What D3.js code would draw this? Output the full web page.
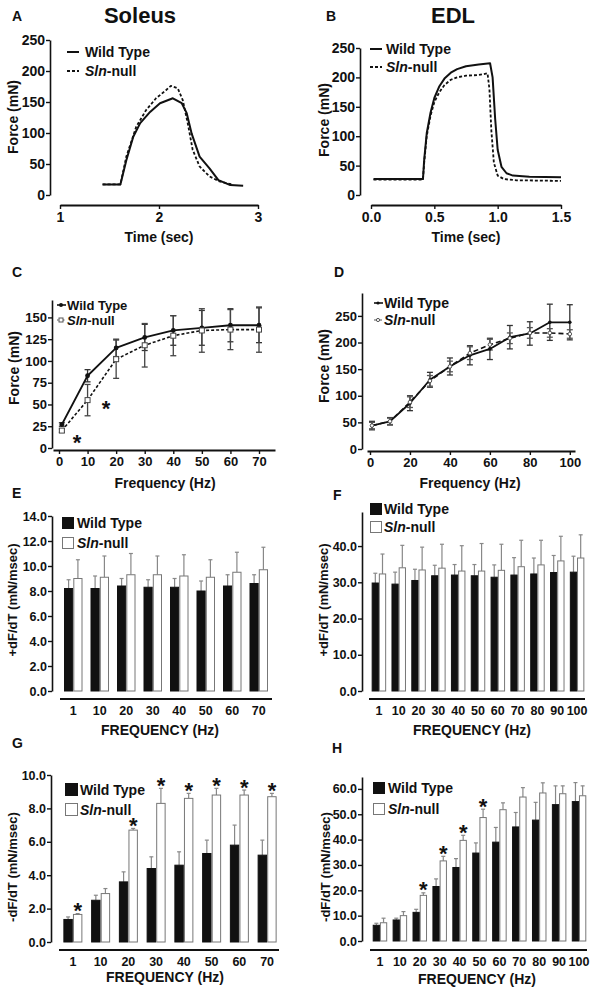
<!DOCTYPE html>
<html><head><meta charset="utf-8">
<script src="https://cdn.jsdelivr.net/npm/d3@7"></script>
<style>
body{margin:0;background:#fff}
svg text{font-family:'Liberation Sans',Arial,Helvetica,sans-serif;font-weight:bold;fill:#111}
</style>
</head><body>
<svg id="chart" width="594" height="993"></svg>
<script>
// ---------------- DATA ----------------
// Panel A: Soleus twitch trace
const aTimeWT  = [1.43,1.61,1.67,1.74,1.81,1.91,2.01,2.14,2.23,2.28,2.33,2.41,2.51,2.60,2.72,2.85];
const aForceWT = [17,17,56,94,116,134,148,156,148,132,99,62,43,24,16,15];
const aTimeSln  = [1.43,1.61,1.67,1.77,1.87,1.97,2.07,2.12,2.19,2.24,2.29,2.34,2.41,2.51,2.61,2.74];
const aForceSln = [17,17,62,110,137,156,169,176,172,153,116,73,46,30,22,17];
// Panel B: EDL tetanic trace
const bTimeWT  = [0.02,0.41,0.42,0.44,0.47,0.50,0.54,0.58,0.63,0.68,0.75,0.85,0.94,0.96,0.98,1.00,1.03,1.07,1.12,1.25,1.50];
const bForceWT = [27,27,60,105,140,165,185,198,208,214,219,222,224,200,130,77,48,37,33,31,30];
const bTimeSln  = [0.02,0.41,0.42,0.44,0.47,0.50,0.54,0.58,0.63,0.68,0.75,0.85,0.92,0.935,0.95,0.97,1.00,1.05,1.15,1.50];
const bForceSln = [26,26,55,100,135,158,175,187,196,200,203,204,207,180,110,55,33,27,25,24];
// Panel C: Soleus force-frequency
const cFreq = [1,10,20,30,40,50,60,70];
const cWT = [27,83,115,127,135,138,141,141];
const cWTerr = [2,7,10,15,17,20,19,20];
const cSln = [20,55,102,118,129,135,136,136];
const cSlnErr = [2,18,22,25,23,25,23,26];
const cStarFreq = [6.3,16.5];
const cStarForce = [12.6,51.6];
// Panel D: EDL force-frequency
const dFreq = [1,10,20,30,40,50,60,70,80,90,100];
const dWT = [44,52,86,130,155,176,188,210,217,238,238];
const dWTerr = [8,7,14,14,16,18,20,22,22,34,33];
const dSln = [44,52,88,128,155,180,196,208,218,218,216];
const dSlnErr = [6,6,10,10,10,12,10,10,10,8,8];
// Panel E: Soleus +dF/dT
const eCats = ["1","10","20","30","40","50","60","70"];
const eWT = [8.2,8.2,8.4,8.3,8.3,8.0,8.4,8.6];
const eWTerr = [0.7,1.0,0.6,0.6,0.7,0.8,0.9,0.7];
const eSln = [9.0,9.1,9.3,9.3,9.2,9.1,9.5,9.7];
const eSlnErr = [1.5,1.7,1.7,1.5,1.7,1.4,1.6,1.8];
// Panel F: EDL +dF/dT
const fCats = ["1","10","20","30","40","50","60","70","80","90","100"];
const fWT = [29.8,29.5,30.5,31.8,32.0,31.8,31.4,32.0,32.3,32.7,32.8];
const fWTerr = [2.7,3.3,3.1,2.9,2.9,3.1,3.4,4.8,4.4,4.7,4.4];
const fSln = [32.3,34.0,33.4,33.9,33.1,33.1,33.3,34.3,34.8,35.9,36.7];
const fSlnErr = [5.5,6.2,6.3,6.6,7.0,7.6,7.2,7.3,6.8,6.8,6.4];
// Panel G: Soleus -dF/dT
const gCats = ["1","10","20","30","40","50","60","70"];
const gWT = [1.35,2.5,3.6,4.4,4.6,5.3,5.8,5.2];
const gWTerr = [0.15,0.3,0.6,0.7,0.8,0.8,1.2,0.9];
const gSln = [1.65,2.9,6.7,8.3,8.6,8.8,8.8,8.7];
const gSlnErr = [0.05,0.3,0.1,0.9,0.3,0.4,0.3,0.2];
const gStars = ["1","20","30","40","50","60","70"];
// Panel H: EDL -dF/dT
const hCats = ["1","10","20","30","40","50","60","70","80","90","100"];
const hWT = [6.2,8.3,11.3,21.5,29.0,34.7,39.0,45.0,47.7,53.8,55.0];
const hWTerr = [0.8,0.7,1.2,3.0,3.5,4.0,5.8,5.7,7.0,7.4,7.5];
const hSln = [7.2,10.0,18.0,31.6,39.7,48.7,51.8,56.8,58.4,58.1,57.3];
const hSlnErr = [1.8,1.6,1.0,1.8,2.0,3.3,2.7,3.7,4.0,3.1,3.9];
const hStars = ["20","30","40","50"];

// ---------------- HELPERS ----------------
const svg = d3.select("#chart");
const FONT = "'Liberation Sans',Arial,Helvetica,sans-serif";
const INK = "#111";

function styleAxis(a, fs, sw) {
  a.attr("font-family", FONT).attr("font-size", fs).attr("font-weight", "bold");
  a.select(".domain").attr("stroke", INK).attr("stroke-width", sw);
  a.selectAll(".tick line").attr("stroke", INK).attr("stroke-width", 1.4);
  a.selectAll(".tick text").attr("fill", INK);
}
function yAxis(y, x, ticks, fmt, fs) {
  const a = svg.append("g").attr("transform", `translate(${x},0)`)
    .call(d3.axisLeft(y).tickValues(ticks).tickSize(4).tickSizeOuter(0).tickFormat(fmt).tickPadding(1));
  styleAxis(a, fs, 1.6);
  return a;
}
function xAxis(x, yPos, ticks, fmt, fs) {
  const a = svg.append("g").attr("transform", `translate(0,${yPos})`)
    .call(d3.axisBottom(x).tickValues(ticks).tickSize(4).tickSizeOuter(0).tickFormat(fmt).tickPadding(3));
  styleAxis(a, fs, 1.8);
  return a;
}
function txt(x, y, s, fs, anchor, rot) {
  const t = svg.append("text").attr("x", x).attr("y", y).attr("font-size", fs)
    .attr("text-anchor", anchor || "start").text(s);
  if (rot) t.attr("transform", `rotate(-90,${x},${y})`);
  return t;
}
function slnText(x, y, fs) {
  const t = svg.append("text").attr("x", x).attr("y", y).attr("font-size", fs);
  t.append("tspan").attr("font-style", "italic").text("Sln");
  t.append("tspan").text("-null");
  return t;
}
function lineSeries(x, y, xs, ys, dash, sw) {
  const pts = xs.map((d, i) => [d, ys[i]]);
  svg.append("path").datum(pts)
    .attr("d", d3.line().x(d => x(d[0])).y(d => y(d[1])))
    .attr("fill", "none").attr("stroke", INK).attr("stroke-width", sw || 1.8)
    .attr("stroke-dasharray", dash || null).attr("stroke-linejoin", "round");
}
function errBars(x, y, xs, ys, es, color) {
  const g = svg.append("g").attr("stroke", color).attr("stroke-width", 1.3).attr("fill", "none");
  xs.forEach((d, i) => {
    const cx = x(d), t = y(ys[i] + es[i]), b = y(ys[i] - es[i]);
    g.append("line").attr("x1", cx).attr("x2", cx).attr("y1", t).attr("y2", b);
    g.append("line").attr("x1", cx - 3).attr("x2", cx + 3).attr("y1", t).attr("y2", t);
    g.append("line").attr("x1", cx - 3).attr("x2", cx + 3).attr("y1", b).attr("y2", b);
  });
}
function star(cx, cy, fs) {
  svg.append("text").attr("x", cx).attr("y", cy + 0.57 * fs).attr("font-size", fs)
    .attr("text-anchor", "middle").text("*");
}

// ---------------- PANEL A ----------------
{
  const x = d3.scaleLinear().domain([1, 3]).range([60, 258]);
  const y = d3.scaleLinear().domain([0, 250]).range([195, 40]);
  yAxis(y, 50, [0, 50, 100, 150, 200, 250], d3.format("d"), 14);
  xAxis(x, 205, [1, 2, 3], d3.format("d"), 14);
  lineSeries(x, y, aTimeWT, aForceWT, null, 2);
  lineSeries(x, y, aTimeSln, aForceSln, "3,2", 1.8);
  txt(12, 21, "A", 14);
  txt(140, 23, "Soleus", 22, "middle");
  txt(18, 117, "Force (mN)", 14, "middle", true);
  txt(159, 242, "Time (sec)", 14, "middle");
  svg.append("line").attr("x1", 67).attr("x2", 79).attr("y1", 52).attr("y2", 52).attr("stroke", INK).attr("stroke-width", 2);
  svg.append("line").attr("x1", 67).attr("x2", 79).attr("y1", 71).attr("y2", 71).attr("stroke", INK).attr("stroke-width", 1.8).attr("stroke-dasharray", "3,2");
  txt(85, 57, "Wild Type", 14);
  slnText(85, 76, 14);
}

// ---------------- PANEL B ----------------
{
  const x = d3.scaleLinear().domain([0, 1.5]).range([371, 561]);
  const y = d3.scaleLinear().domain([0, 250]).range([195, 48]);
  yAxis(y, 360, [0, 50, 100, 150, 200, 250], d3.format("d"), 14);
  xAxis(x, 205, [0, 0.5, 1.0, 1.5], d3.format(".1f"), 14);
  lineSeries(x, y, bTimeWT, bForceWT, null, 2);
  lineSeries(x, y, bTimeSln, bForceSln, "3,2", 1.8);
  txt(326, 21, "B", 14);
  txt(453, 23, "EDL", 22, "middle");
  txt(329, 120, "Force (mN)", 14, "middle", true);
  txt(466, 242, "Time (sec)", 14, "middle");
  svg.append("line").attr("x1", 370).attr("x2", 382).attr("y1", 49).attr("y2", 49).attr("stroke", INK).attr("stroke-width", 2);
  svg.append("line").attr("x1", 370).attr("x2", 382).attr("y1", 67).attr("y2", 67).attr("stroke", INK).attr("stroke-width", 1.8).attr("stroke-dasharray", "3,2");
  txt(386, 54, "Wild Type", 14);
  slnText(386, 72, 14);
}

// ---------------- PANEL C ----------------
{
  const x = d3.scaleLinear().domain([-2.1, 75.6]).range([53, 275]);
  const y = d3.scaleLinear().domain([0, 170]).range([448, 300]);
  yAxis(y, 52, [0, 25, 50, 75, 100, 125, 150], d3.format("d"), 13);
  xAxis(x, 450, [0, 10, 20, 30, 40, 50, 60, 70], d3.format("d"), 13);
  errBars(x, y, cFreq, cWT, cWTerr, "#333");
  errBars(x, y, cFreq, cSln, cSlnErr, "#444");
  lineSeries(x, y, cFreq, cWT, null, 1.8);
  lineSeries(x, y, cFreq, cSln, "3,2", 1.6);
  cFreq.forEach((f, i) => {
    svg.append("circle").attr("cx", x(f)).attr("cy", y(cWT[i])).attr("r", 2.4).attr("fill", INK);
    svg.append("rect").attr("x", x(f) - 2.5).attr("y", y(cSln[i]) - 2.5).attr("width", 5).attr("height", 5)
      .attr("fill", "#fff").attr("stroke", "#444").attr("stroke-width", 1);
  });
  cStarFreq.forEach((f, i) => star(x(f), y(cStarForce[i]), 22));
  txt(12, 277, "C", 14);
  txt(19, 368, "Force (mN)", 14, "middle", true);
  txt(165, 488, "Frequency (Hz)", 14, "middle");
  svg.append("line").attr("x1", 57).attr("x2", 66).attr("y1", 305).attr("y2", 305).attr("stroke", INK).attr("stroke-width", 1.6);
  svg.append("circle").attr("cx", 61).attr("cy", 305).attr("r", 2).attr("fill", INK);
  svg.append("line").attr("x1", 57).attr("x2", 66).attr("y1", 320).attr("y2", 320).attr("stroke", "#555").attr("stroke-width", 1.2).attr("stroke-dasharray", "1.5,1.5");
  svg.append("rect").attr("x", 59).attr("y", 318).attr("width", 4).attr("height", 4).attr("fill", "#fff").attr("stroke", "#555");
  txt(67, 309.5, "Wild Type", 13);
  slnText(67, 325, 13);
}

// ---------------- PANEL D ----------------
{
  const x = d3.scaleLinear().domain([-1.5, 102.6]).range([367, 575]);
  const y = d3.scaleLinear().domain([0, 293]).range([449, 293]);
  yAxis(y, 362, [0, 50, 100, 150, 200, 250], d3.format("d"), 13);
  xAxis(x, 451, [0, 20, 40, 60, 80, 100], d3.format("d"), 13);
  errBars(x, y, dFreq, dWT, dWTerr, "#333");
  errBars(x, y, dFreq, dSln, dSlnErr, "#555");
  lineSeries(x, y, dFreq, dSln, "5,3", 1.6);
  lineSeries(x, y, dFreq, dWT, null, 1.8);
  dFreq.forEach((f, i) => {
    svg.append("circle").attr("cx", x(f)).attr("cy", y(dWT[i])).attr("r", 1.8).attr("fill", INK);
    svg.append("circle").attr("cx", x(f)).attr("cy", y(dSln[i])).attr("r", 1.8).attr("fill", "#fff").attr("stroke", "#555");
  });
  txt(334, 277, "D", 14);
  txt(329, 366, "Force (mN)", 14, "middle", true);
  txt(470, 488, "Frequency (Hz)", 14, "middle");
  svg.append("line").attr("x1", 374).attr("x2", 383).attr("y1", 303).attr("y2", 303).attr("stroke", INK).attr("stroke-width", 1.6);
  svg.append("circle").attr("cx", 378).attr("cy", 303).attr("r", 1.6).attr("fill", INK);
  svg.append("line").attr("x1", 374).attr("x2", 383).attr("y1", 320).attr("y2", 320).attr("stroke", "#555").attr("stroke-width", 1.2).attr("stroke-dasharray", "3,2");
  svg.append("circle").attr("cx", 378).attr("cy", 320).attr("r", 1.6).attr("fill", "#fff").attr("stroke", "#555");
  txt(384, 308, "Wild Type", 14);
  slnText(384, 325, 14);
}

// ---------------- BAR PANELS ----------------
function barPanel(o) {
  const x0 = d3.scaleBand().domain(o.cats).range(o.xr).padding(0);
  const bw = x0.bandwidth();
  const x1 = d3.scaleBand().domain(["wt", "sln"]).range([bw / 2 - o.gw / 2, bw / 2 + o.gw / 2]).paddingInner(0.12);
  const y = d3.scaleLinear().domain([0, o.ymax]).range([o.y0, o.ytop]);
  yAxis(y, o.yx, o.yticks, d3.format(".1f"), 12.5);
  svg.append("line").attr("x1", o.xr[0]).attr("x2", o.xr[1] + o.xext).attr("y1", o.xy).attr("y2", o.xy)
    .attr("stroke", INK).attr("stroke-width", 2);
  o.cats.forEach(c => txt(x0(c) + bw / 2, o.xy + 16, c, 12.5, "middle"));
  const series = [["wt", o.wt, o.wtErr], ["sln", o.sln, o.slnErr]];
  series.forEach(([k, vals, errs]) => {
    o.cats.forEach((c, i) => {
      const bx = x0(c) + x1(k), w = x1.bandwidth(), cx = bx + w / 2;
      const top = y(vals[i] + errs[i]);
      svg.append("line").attr("x1", cx).attr("x2", cx).attr("y1", y(vals[i])).attr("y2", top)
        .attr("stroke", "#888").attr("stroke-width", 1.2);
      svg.append("line").attr("x1", cx - 2).attr("x2", cx + 2).attr("y1", top).attr("y2", top)
        .attr("stroke", "#888").attr("stroke-width", 1.2);
      svg.append("rect").attr("x", bx).attr("y", y(vals[i])).attr("width", w).attr("height", y(0) - y(vals[i]))
        .attr("fill", k === "wt" ? "#111" : "#fff").attr("stroke", k === "wt" ? "#111" : "#777").attr("stroke-width", 1);
    });
  });
  if (o.stars) {
    o.stars.forEach(c => {
      const i = o.cats.indexOf(c);
      const cx = x0(c) + x1("sln") + x1.bandwidth() / 2;
      star(cx, y(o.sln[i] + o.slnErr[i]) - 8, 22);
    });
  }
  const L = o.leg;
  svg.append("rect").attr("x", L.x).attr("y", L.y1).attr("width", L.s).attr("height", L.s).attr("fill", "#111");
  svg.append("rect").attr("x", L.x + 0.5).attr("y", L.y2 + 0.5).attr("width", L.s - 1).attr("height", L.s - 1)
    .attr("fill", "#fff").attr("stroke", "#777");
  txt(L.tx, L.y1 + L.s - 1, "Wild Type", 14);
  slnText(L.tx, L.y2 + L.s - 1, 14);
  txt(o.letter[1], o.letter[2], o.letter[0], 14);
  txt(o.ylab[0], o.ylab[1], o.ylab[2], 13, "middle", true);
  txt(o.xlab[0], o.xlab[1], "FREQUENCY (Hz)", 14, "middle");
}

barPanel({cats: eCats, wt: eWT, wtErr: eWTerr, sln: eSln, slnErr: eSlnErr,
  xr: [60, 272], xext: 0, gw: 17.5, xy: 699, y0: 691, ytop: 516, ymax: 14, yx: 52,
  yticks: [0, 2, 4, 6, 8, 10, 12, 14],
  leg: {x: 62, y1: 517, y2: 537, s: 12, tx: 77},
  letter: ["E", 12, 498], ylab: [17, 600, "+dF/dT (mN/msec)"], xlab: [160, 735]});

barPanel({cats: fCats, wt: fWT, wtErr: fWTerr, sln: fSln, slnErr: fSlnErr,
  xr: [369, 587], xext: -2, gw: 13.5, xy: 699, y0: 691, ytop: 512, ymax: 49.4, yx: 362,
  yticks: [0, 10, 20, 30, 40],
  leg: {x: 370, y1: 503, y2: 521, s: 12, tx: 384},
  letter: ["F", 333, 500], ylab: [328, 600, "+dF/dT (mN/msec)"], xlab: [472, 735]});

barPanel({cats: gCats, wt: gWT, wtErr: gWTerr, sln: gSln, slnErr: gSlnErr, stars: gStars,
  xr: [59, 281], xext: -2, gw: 18, xy: 950, y0: 942, ytop: 775, ymax: 10, yx: 51,
  yticks: [0, 2, 4, 6, 8, 10],
  leg: {x: 65, y1: 783, y2: 803, s: 13, tx: 80},
  letter: ["G", 12, 748], ylab: [17, 867, "-dF/dT (mN/msec)"], xlab: [165, 982]});

barPanel({cats: hCats, wt: hWT, wtErr: hWTerr, sln: hSln, slnErr: hSlnErr, stars: hStars,
  xr: [370, 589], xext: -2, gw: 13.5, xy: 950, y0: 941, ytop: 777, ymax: 64.7, yx: 362,
  yticks: [0, 10, 20, 30, 40, 50, 60],
  leg: {x: 373, y1: 782, y2: 803, s: 12, tx: 388},
  letter: ["H", 332, 753], ylab: [330, 867, "-dF/dT (mN/msec)"], xlab: [477, 984]});
</script>
</body></html>
